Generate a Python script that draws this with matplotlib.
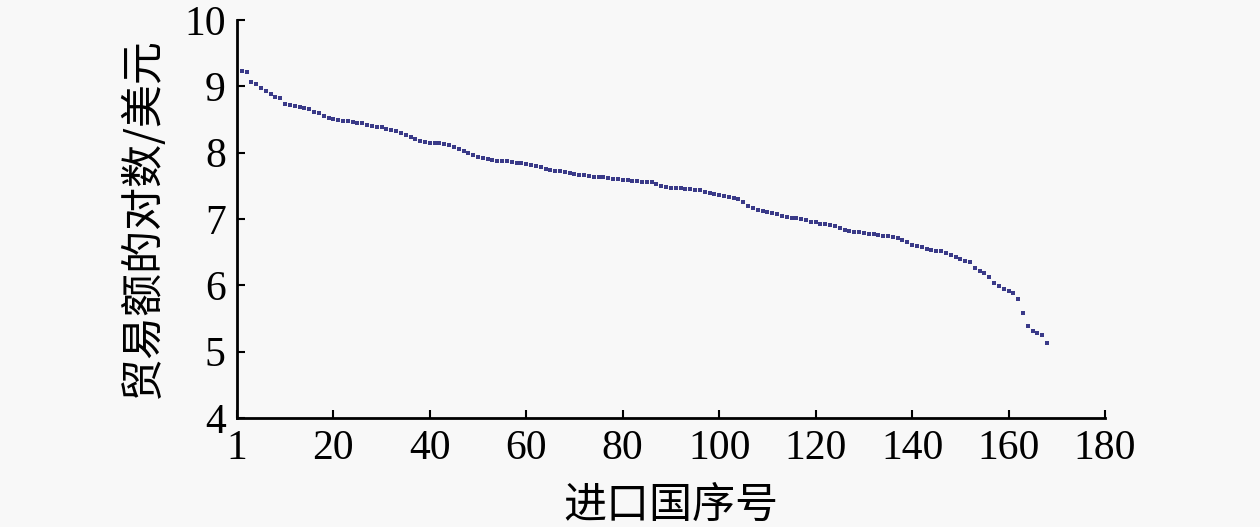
import numpy as np
import matplotlib
matplotlib.use('Agg')
import matplotlib.pyplot as plt

# import country rank (1..168) and log of trade value
rank = np.arange(1, 169)
log_trade = [
    9.23, 9.21, 9.07, 9.03, 8.98, 8.93, 8.88, 8.84, 8.82, 8.73,
    8.72, 8.70, 8.69, 8.68, 8.66, 8.62, 8.60, 8.56, 8.53, 8.51,
    8.49, 8.48, 8.47, 8.46, 8.45, 8.44, 8.42, 8.40, 8.39, 8.38,
    8.36, 8.34, 8.32, 8.30, 8.27, 8.23, 8.20, 8.17, 8.16, 8.15,
    8.14, 8.14, 8.13, 8.11, 8.08, 8.06, 8.03, 8.00, 7.96, 7.94,
    7.92, 7.90, 7.89, 7.88, 7.87, 7.87, 7.86, 7.85, 7.84, 7.83,
    7.82, 7.80, 7.78, 7.76, 7.74, 7.73, 7.72, 7.71, 7.70, 7.68,
    7.67, 7.66, 7.65, 7.64, 7.63, 7.63, 7.62, 7.61, 7.60, 7.59,
    7.59, 7.58, 7.57, 7.56, 7.56, 7.55, 7.53, 7.50, 7.48, 7.47,
    7.46, 7.46, 7.45, 7.45, 7.44, 7.43, 7.41, 7.39, 7.38, 7.36,
    7.35, 7.33, 7.32, 7.30, 7.25, 7.20, 7.16, 7.14, 7.12, 7.10,
    7.09, 7.07, 7.05, 7.03, 7.02, 7.01, 7.00, 6.98, 6.96, 6.95,
    6.93, 6.92, 6.91, 6.89, 6.87, 6.84, 6.82, 6.81, 6.80, 6.79,
    6.78, 6.77, 6.76, 6.75, 6.74, 6.73, 6.71, 6.68, 6.65, 6.61,
    6.59, 6.57, 6.55, 6.53, 6.52, 6.51, 6.49, 6.46, 6.42, 6.40,
    6.37, 6.35, 6.26, 6.22, 6.18, 6.12, 6.04, 5.99, 5.95, 5.91,
    5.88, 5.79, 5.58, 5.38, 5.31, 5.28, 5.25, 5.13,
]

x_ticks = [0, 20, 40, 60, 80, 100, 120, 140, 160, 180]
x_tick_labels = ['1', '20', '40', '60', '80', '100', '120', '140', '160', '180']
y_ticks = [4, 5, 6, 7, 8, 9, 10]

bg = '#f8f8f8'
fig = plt.figure(figsize=(12.6, 5.27), dpi=100, facecolor=bg)
ax = fig.add_axes([0.188, 0.207, 0.689, 0.755], facecolor=bg)

ax.plot(rank, log_trade, linestyle='none', marker='s', markersize=3.4,
        color='#3a3a88', markeredgewidth=0)

ax.set_xlim(0, 180)
ax.set_ylim(4, 10)
ax.set_xticks(x_ticks)
ax.set_xticklabels(x_tick_labels)
ax.set_yticks(y_ticks)

for s in ['top', 'right']:
    ax.spines[s].set_visible(False)
for s in ['left', 'bottom']:
    ax.spines[s].set_linewidth(2.0)

ax.tick_params(direction='in', length=6, width=1.5, pad=8,
               labelsize=30)
for lab in ax.get_xticklabels() + ax.get_yticklabels():
    lab.set_family('Liberation Serif')

cjk = ['Noto Sans CJK SC', 'DejaVu Sans']
ax.set_xlabel('进口国序号', family=cjk, fontsize=31, labelpad=12)
ax.set_ylabel('贸易额的对数/美元', family=cjk, fontsize=31, labelpad=14)

fig.savefig('out.png', dpi=100, facecolor=bg)
